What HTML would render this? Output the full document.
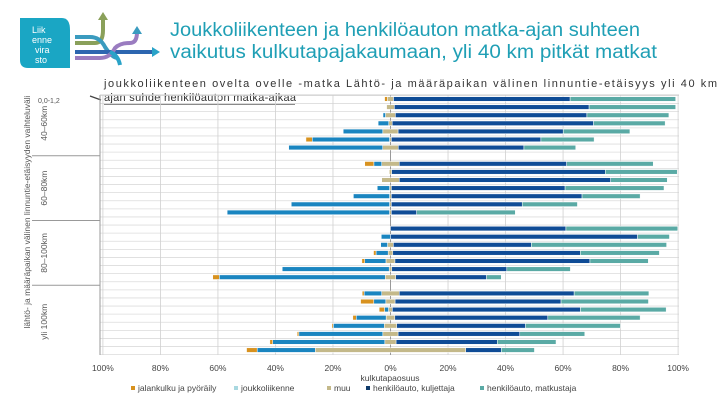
<!DOCTYPE html>
<html><head><meta charset="utf-8">
<style>
body{margin:0;background:#fff;font-family:"Liberation Sans",sans-serif;}
#wrap{position:relative;width:720px;height:405px;overflow:hidden;}
</style></head>
<body>
<div id="wrap">
<svg id="svg" width="720" height="405" xmlns="http://www.w3.org/2000/svg">
  <g>
    <path d="M20 18 H62 Q70 18 70 30 V68 H28 Q20 68 20 60 Z" fill="#1aa6c4"/>
    <text x="32" y="33" font-size="9" fill="#fff">Liik</text>
    <text x="32" y="43" font-size="9" fill="#fff">enne</text>
    <text x="35" y="53" font-size="9" fill="#fff">vira</text>
    <text x="35" y="63" font-size="9" fill="#fff">sto</text>
  </g>
  <g fill="none" stroke-width="4">
    <path d="M75 43 H95 Q103 43 103 30 V18" stroke="#8aa05a"/>
    <path d="M75 37 H90 Q100 37 105 47 Q112 58 118 58" stroke="#3a9bbf"/>
    <path d="M75 52 H152" stroke="#2d66b0"/>
    <path d="M75 58 H100 Q110 58 115 48 Q120 43 130 43 Q137 43 137 32" stroke="#9a7cc0"/>
    <path d="M110 52 Q118 55 120 65" stroke="#2aa3c8"/>
    <polygon points="98,20 108,20 103,12" fill="#8aa05a" stroke="none"/>
    <polygon points="132,34 142,34 137,26" fill="#3a9bbf" stroke="none"/>
    <polygon points="152,47 152,57 160,52" fill="#2aa3c8" stroke="none"/>
  </g>
  <text x="170" y="36" font-size="19" fill="#1f9fb5" textLength="470" lengthAdjust="spacingAndGlyphs">Joukkoliikenteen ja henkilöauton matka-ajan suhteen</text>
  <text x="170" y="58" font-size="19" fill="#1f9fb5" textLength="487" lengthAdjust="spacingAndGlyphs">vaikutus kulkutapajakaumaan, yli 40 km pitkät matkat</text>
  <text x="104" y="87" font-size="11" fill="#333" textLength="613" lengthAdjust="spacing">joukkoliikenteen ovelta ovelle -matka Lähtö- ja määräpaikan välinen linnuntie-etäisyys yli 40 km</text>
  <text x="104" y="101" font-size="11" fill="#333" textLength="192" lengthAdjust="spacing">ajan suhde henkilöauton matka-aikaa</text>
  <line x1="104" y1="104" x2="295" y2="104" stroke="#444" stroke-width="1.2"/>
  <line x1="90" y1="96" x2="101" y2="100" stroke="#444" stroke-width="1.2"/>
  <text x="38" y="103" font-size="7" fill="#555">0,0-1,2</text>
  <g id="grid"></g>
  <g id="bars"></g>
  <g id="axis"></g>
  <text transform="translate(30,212) rotate(-90)" font-size="8.5" fill="#555" text-anchor="middle">lähtö- ja määräpaikan välinen linnuntie-etäisyyden vaihteluväli</text>
  <text x="390" y="381" font-size="8.5" fill="#444" text-anchor="middle">kulkutapaosuus</text>
  <g id="legend"></g>
</svg>
</div>
<script>
const groups = ["40–60km","60–80km","80–100km","yli 100km"];
const groupSizes = [7,7,7,8];
const seriesNames = ["jalankulku ja pyöräily","joukkoliikenne","muu","henkilöauto, kuljettaja","henkilöauto, matkustaja"];
const walk = [1,0,0,0,0,2.2,0, 3.2,0,0,0,0,0,0, 0,0,0,0.9,1,0,2.3, 0.7,4.6,1.9,1.2,0.5,0.6,1,3.7];
const transit = [0,0,0.9,3.7,13.8,26.9,32.7, 2.7,0,0,4.3,12.6,34.2,56.5, 0,3.2,2.4,4.2,7.4,37.2,57.7, 6.1,4.2,1.4,10.4,17.7,29.2,39,20.2];
const other = [2.1,2.7,3.4,1.2,5.3,0.6,5.4, 6.1,0.8,6.1,0.6,0.6,0.6,0.6, 0,0,2,1.6,3.1,0.9,3.6, 6.1,3.2,1.3,3,4.3,5.3,3.9,52.3];
const driver = [61.4,67.7,66.6,70,57.4,52,43.7, 58.2,74.3,73.5,60.4,66.3,45.5,8.8, 61,85.9,48,65.2,67.8,40,31.6, 60.8,57.7,65.4,53.2,44.8,42.3,35.2,12.4];
const passenger = [36.7,30.1,28.5,24.9,23.2,18.5,18, 30.1,25,19.7,34.4,20.2,19.2,34.3, 38.9,11.1,47,27.5,20.3,22.1,5.1, 26,30.4,29.8,32.1,33,22.6,20.4,11.5];
const xTicks = [-100,-80,-60,-40,-20,0,20,40,60,80,100];
const xTickLabels = ["100%","80%","60%","40%","20%","0%","20%","40%","60%","80%","100%"];
const colors = ["#d8921f","#1a85c0","#c4b98a","#0f4c96","#5aaaa5"];
const legendColors = ["#d8921f","#a8d8e0","#c4b98a","#0f3a6a","#5aaaa5"];

const NS="http://www.w3.org/2000/svg";
const X0=390.5, SC=2.876, TOP=95, BOT=355, LEFT=100, RIGHT=679;
const x = v => X0 + v*SC;
function mk(tag, attrs, parent){const e=document.createElementNS(NS,tag);for(const k in attrs)e.setAttribute(k,attrs[k]);parent.appendChild(e);return e;}
const slots=[];let s=0;
groupSizes.forEach((n,gi)=>{for(let i=0;i<n;i++){slots.push(s);s++;}s++;});
const y = slot => 99 + slot*8.1;

const grid=document.getElementById('grid');
for(let i=0;i<=32;i++){const yy=y(i)-4.05+0.5;if(yy>BOT)break;const l=mk('line',{x1:LEFT,x2:RIGHT,y1:yy,y2:yy,stroke:'#dcdcdc','stroke-width':0.8},grid);

}
xTicks.forEach(t=>{const l=mk('line',{x1:x(t),x2:x(t),y1:TOP,y2:BOT,stroke:t===0?'#999':'#d0d0d0','stroke-width':t===0?1:0.8},grid);

});
mk('line',{x1:LEFT,x2:LEFT,y1:TOP,y2:BOT,stroke:'#999','stroke-width':1},grid);
mk('line',{x1:LEFT,x2:RIGHT,y1:TOP,y2:TOP,stroke:'#ccc','stroke-width':1},grid);
let start=0;
groupSizes.forEach((n,gi)=>{
  const first=slots[start], last=slots[start+n-1];
  const cy=(y(first)+y(last))/2;
  const t=mk('text',{transform:`translate(47,${cy}) rotate(-90)`,'font-size':8.5,fill:'#555','text-anchor':'middle'},grid);
  t.textContent=groups[gi];
  
  
  if(gi>0){const yy=y(first)-8.1;const l=mk('line',{x1:32,x2:LEFT,y1:yy,y2:yy,stroke:'#999','stroke-width':1},grid);
  
  }
  start+=n;
});

const bars=document.getElementById('bars');
const H=4.6;
for(let i=0;i<driver.length;i++){
  const cy=y(slots[i]);
  const m=other[i];
  const segs=[
    [-m/2-transit[i]-walk[i], walk[i], 0],
    [-m/2-transit[i], transit[i], 1],
    [-m/2, m, 2],
    [m/2, driver[i], 3],
    [m/2+driver[i], passenger[i], 4]
  ];
  segs.forEach(([a,w,c])=>{ if(w<=0) return;
    const r=mk('rect',{x:x(a),y:cy-H/2,width:w*SC,height:H,fill:colors[c],stroke:'#fff','stroke-width':0.5},bars);
    
    
  });
}

const axis=document.getElementById('axis');
xTicks.forEach((t,i)=>{const tx=mk('text',{x:x(t),y:371,'font-size':8.5,fill:'#444','text-anchor':'middle'},axis);
tx.textContent=xTickLabels[i];

});

const legend=document.getElementById('legend');
const lx=[131,234,327,366,480];
seriesNames.forEach((n,i)=>{
  const g=mk('g',{},legend);
  
  
  mk('rect',{x:lx[i],y:386,width:4,height:4,fill:legendColors[i]},g);
  const t=mk('text',{x:lx[i]+7,y:391,'font-size':8.5,fill:'#444'},g);
  t.textContent=n;
});
</script>
</body></html>
